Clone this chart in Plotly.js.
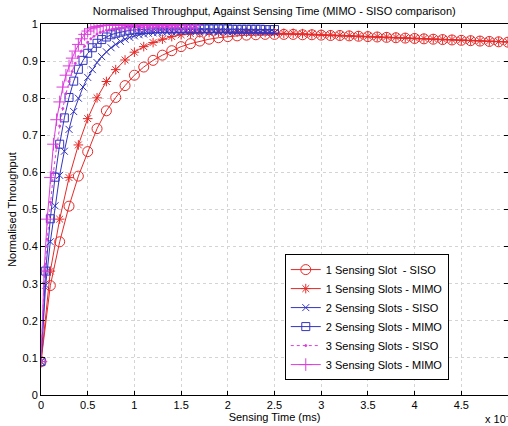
<!DOCTYPE html>
<html>
<head>
<meta charset="utf-8">
<script src="https://cdn.plot.ly/plotly-3.0.1.min.js"></script>
<style>html,body{margin:0;padding:0;background:#fff;}#chart{width:508px;height:426px;}</style>
</head>
<body>
<div id="chart"></div>
<script>
// Sampling step (ms) of each family of curves
const stepOneSlot = 0.1;
const stepTwoSlots = 0.05;
const stepThreeSlots = 1 / 30;

const seriesNames = [
  "1 Sensing Slot\u00a0 - SISO",
  "1 Sensing Slots - MIMO",
  "2 Sensing Slots - SISO",
  "2 Sensing Slots - MIMO",
  "3 Sensing Slots - SISO",
  "3 Sensing Slots - MIMO"
];

const oneSlotSISO = [0.090, 0.295, 0.413, 0.509, 0.590, 0.656, 0.718, 0.766, 0.802, 0.834, 0.862,
  0.884, 0.902, 0.916, 0.928, 0.939, 0.947, 0.954, 0.959, 0.963, 0.966,
  0.968, 0.970, 0.971, 0.972, 0.972, 0.972, 0.972, 0.971, 0.971, 0.970,
  0.969, 0.969, 0.968, 0.967, 0.966, 0.965, 0.964, 0.963, 0.962, 0.961,
  0.960, 0.959, 0.958, 0.957, 0.956, 0.955, 0.954, 0.953, 0.952, 0.951];

const oneSlotMIMO = [0.090, 0.334, 0.474, 0.586, 0.674, 0.745, 0.801, 0.845, 0.877, 0.903, 0.924,
  0.939, 0.950, 0.959, 0.966, 0.971, 0.974, 0.976, 0.977, 0.978, 0.978,
  0.978, 0.978, 0.977, 0.977, 0.976, 0.975, 0.975, 0.974, 0.973, 0.972,
  0.971, 0.970, 0.969, 0.968, 0.967, 0.966, 0.965, 0.964, 0.963, 0.962,
  0.961, 0.960, 0.959, 0.958, 0.957, 0.956, 0.955, 0.954, 0.953, 0.952];

const twoSlotsSISO = [0.090, 0.296, 0.413, 0.510, 0.592, 0.657, 0.716, 0.764, 0.800, 0.830, 0.856,
  0.877, 0.896, 0.912, 0.925, 0.936, 0.945, 0.953, 0.959, 0.964, 0.968,
  0.971, 0.973, 0.975, 0.976, 0.977, 0.978, 0.978, 0.979, 0.979, 0.980,
  0.980, 0.980, 0.980, 0.980, 0.980, 0.980, 0.980, 0.979, 0.979, 0.979,
  0.979, 0.979, 0.979, 0.978, 0.978, 0.978, 0.978, 0.978, 0.978, 0.977];

const twoSlotsMIMO = [0.090, 0.334, 0.475, 0.587, 0.676, 0.747, 0.802, 0.846, 0.878, 0.902, 0.921,
  0.936, 0.948, 0.958, 0.965, 0.971, 0.975, 0.978, 0.981, 0.983, 0.984,
  0.985, 0.986, 0.986, 0.987, 0.987, 0.987, 0.987, 0.987, 0.987, 0.987,
  0.987, 0.987, 0.987, 0.987, 0.987, 0.987, 0.987, 0.987, 0.987, 0.987,
  0.986, 0.986, 0.986, 0.986, 0.986, 0.986, 0.986, 0.985, 0.985, 0.985];

const threeSlotsSISO = [0.090, 0.300, 0.420, 0.520, 0.600, 0.668, 0.725, 0.772, 0.812, 0.845, 0.872,
  0.894, 0.912, 0.927, 0.940, 0.951, 0.960, 0.967, 0.973, 0.977, 0.980,
  0.983, 0.985, 0.987, 0.988, 0.989, 0.990, 0.990, 0.991, 0.991, 0.991,
  0.991, 0.991, 0.991, 0.991, 0.991, 0.991, 0.991, 0.991, 0.991, 0.991,
  0.991, 0.991, 0.991, 0.991, 0.990, 0.990, 0.990, 0.990, 0.990, 0.990];

const threeSlotsMIMO = [0.090, 0.334, 0.474, 0.586, 0.676, 0.742, 0.790, 0.830, 0.862, 0.887, 0.908,
  0.927, 0.945, 0.960, 0.972, 0.981, 0.987, 0.991, 0.993, 0.995, 0.996,
  0.997, 0.997, 0.997, 0.997, 0.997, 0.997, 0.997, 0.997, 0.997, 0.997,
  0.997, 0.997, 0.997, 0.997, 0.997, 0.997, 0.997, 0.997, 0.997, 0.997,
  0.997, 0.997, 0.997, 0.997, 0.996, 0.996, 0.996, 0.996, 0.996, 0.996];

const xTickVals = [0, 0.5, 1, 1.5, 2, 2.5, 3, 3.5, 4, 4.5, 5];
const xTickText = ["0", "0.5", "1", "1.5", "2", "2.5", "3", "3.5", "4", "4.5", "5"];
const yTickVals = [0, 0.1, 0.2, 0.3, 0.4, 0.5, 0.6, 0.7, 0.8, 0.9, 1];
const yTickText = ["0", "0.1", "0.2", "0.3", "0.4", "0.5", "0.6", "0.7", "0.8", "0.9", "1"];

const RED = "#e52a28", BLUE = "#3535c0", MAG = "#dc3cdc";

function tr(name, y, dx, color, symbol, size, dash) {
  return {
    type: "scatter", mode: "lines+markers", name: name,
    x0: 0, dx: dx, y: y,
    line: {color: color, width: 1, dash: dash || "solid"},
    marker: {symbol: symbol, size: size, color: color, line: {color: color, width: 1}}
  };
}

const data = [
  tr(seriesNames[0], oneSlotSISO, stepOneSlot, RED, "circle-open", 10),
  tr(seriesNames[1], oneSlotMIMO, stepOneSlot, RED, "asterisk-open", 8),
  tr(seriesNames[2], twoSlotsSISO, stepTwoSlots, BLUE, "x-thin-open", 7),
  tr(seriesNames[3], twoSlotsMIMO, stepTwoSlots, BLUE, "square-open", 8),
  tr(seriesNames[4], threeSlotsSISO, stepThreeSlots, MAG, "circle", 2, "dot"),
  tr(seriesNames[5], threeSlotsMIMO, stepThreeSlots, MAG, "cross-thin-open", 9)
];

const FONT = "Liberation Sans, Arial, sans-serif";
const axisCommon = {
  showline: true, linecolor: "#000", linewidth: 1, mirror: "ticks",
  ticks: "inside", ticklen: 4, tickcolor: "#000",
  showgrid: true, gridcolor: "#d4d4d4", griddash: "dot", gridwidth: 1,
  zeroline: false, tickfont: {family: FONT, size: 11, color: "#000"}
};

const layout = {
  width: 508, height: 426,
  margin: {l: 41, r: 0, t: 24, b: 31},
  paper_bgcolor: "#fff", plot_bgcolor: "#fff",
  font: {family: FONT, size: 11, color: "#000"},
  title: {text: "Normalised Throughput, Against Sensing Time (MIMO - SISO comparison)",
          font: {family: FONT, size: 11, color: "#000"},
          x: 0.54, xanchor: "center", y: 0.974, yanchor: "middle", yref: "container"},
  xaxis: Object.assign({}, axisCommon, {
    range: [0, 5], tickvals: xTickVals, ticktext: xTickText, tickangle: 0,
    title: {text: "Sensing Time (ms)", font: {family: FONT, size: 11}, standoff: 2}
  }),
  yaxis: Object.assign({}, axisCommon, {
    range: [0, 1], tickvals: yTickVals, ticktext: yTickText,
    title: {text: "Normalised Throughput", font: {family: FONT, size: 11}, standoff: 3}
  }),
  showlegend: true,
  legend: {x: 0.522, y: 0.21, xanchor: "left", yanchor: "middle",
           bgcolor: "#fff", bordercolor: "#000", borderwidth: 1,
           font: {family: FONT, size: 11, color: "#000"}, tracegroupgap: 0},
  annotations: [{
    text: "x 10<sup>-3</sup>", xref: "paper", yref: "paper",
    x: 0.946, y: -0.062, xanchor: "left", yanchor: "middle", showarrow: false,
    font: {family: FONT, size: 11, color: "#000"}
  }]
};

Plotly.newPlot("chart", data, layout, {displayModeBar: false, staticPlot: true});
</script>
</body>
</html>
